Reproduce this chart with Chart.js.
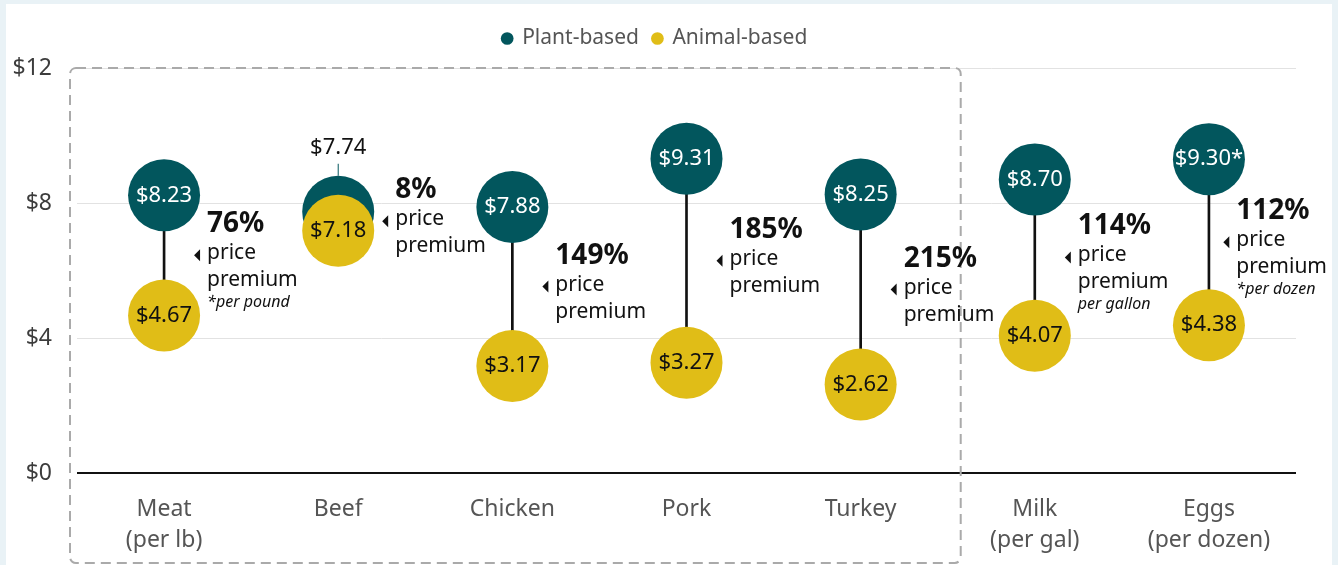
<!DOCTYPE html>
<html>
<head>
<meta charset="utf-8">
<script src="https://cdn.jsdelivr.net/npm/chart.js@4"></script>
<style>
  html, body { margin: 0; padding: 0; background: #e9f2f6; }
  #panel { position: absolute; left: 6px; top: 4px; width: 1326px; height: 561px; background: #fff; }
  canvas { display: block; }
</style>
</head>
<body>
<div id="panel"><canvas id="priceChart" width="1326" height="561"></canvas></div>
<script>
const categories = [['Meat', '(per lb)'], 'Beef', 'Chicken', 'Pork', 'Turkey', ['Milk', '(per gal)'], ['Eggs', '(per dozen)']];
const plantPrices = [8.23, 7.74, 7.88, 9.31, 8.25, 8.70, 9.30];
const animalPrices = [4.67, 7.18, 3.17, 3.27, 2.62, 4.07, 4.38];
const plantMarks = ['', '', '', '', '', '', '*'];
const premiums = ['76%', '8%', '149%', '185%', '215%', '114%', '112%'];
const unitNotes = ['*per pound', '', '', '', '', 'per gallon', '*per dozen'];
const yTicks = [0, 4, 8, 12];
const boxedCount = 5; // meat group inside the dashed box

const TEAL = '#02565d';
const GOLD = '#e0bd17';
const FONT = '"Noto Sans", sans-serif';
const R = 36;

// give the legend some extra room below it
const legendGap = {
    id: 'legendGap',
    beforeLayout(chart) {
        const lg = chart.legend;
        if (lg && !lg._gapPatched) {
            const fit = lg.fit.bind(lg);
            lg.fit = function () { fit(); this.height += 9; };
            lg._gapPatched = true;
        }
    }
};

const dashedBox = {
    id: 'dashedBox',
    beforeDatasetsDraw(chart) {
        const { ctx, chartArea, scales } = chart;
        const x = scales.x, y = scales.y;
        const left = chartArea.left - 7;
        const right = (x.getPixelForValue(boxedCount - 1) + x.getPixelForValue(boxedCount)) / 2 + 13;
        const top = y.getPixelForValue(12);
        const bottom = chart.height - 2;
        ctx.save();
        ctx.strokeStyle = '#aaaaaa';
        ctx.lineWidth = 2;
        ctx.setLineDash([10, 6]);
        ctx.beginPath();
        ctx.roundRect(left, top, right - left, bottom - top, 6);
        ctx.stroke();
        ctx.restore();
    }
};

const pointLabels = {
    id: 'pointLabels',
    afterDatasetsDraw(chart) {
        const { ctx, scales } = chart;
        const plant = chart.getDatasetMeta(1).data;
        const animal = chart.getDatasetMeta(2).data;
        ctx.save();
        ctx.textBaseline = 'middle';
        plantPrices.forEach((v, i) => {
            const p = plant[i], a = animal[i];
            ctx.textAlign = 'center';
            ctx.font = '22px ' + FONT;
            ctx.fillStyle = '#111';
            ctx.fillText('$' + animalPrices[i].toFixed(2), a.x, a.y);
            const label = '$' + v.toFixed(2) + plantMarks[i];
            const overlap = a.y - p.y < 2 * R;
            if (overlap) {
                // circles overlap: put plant label above with a tick
                ctx.strokeStyle = TEAL;
                ctx.lineWidth = 1;
                ctx.beginPath();
                ctx.moveTo(p.x, p.y - R);
                ctx.lineTo(p.x, p.y - R - 12);
                ctx.stroke();
                ctx.fillStyle = '#111';
                ctx.fillText(label, p.x, p.y - R - 28);
            } else {
                ctx.fillStyle = '#fff';
                ctx.fillText(label, p.x, p.y);
            }

            // premium annotation
            const mid = scales.y.getPixelForValue((v + animalPrices[i]) / 2);
            let tx = overlap ? p.x + R + 8 : p.x + 30;
            ctx.font = '21px ' + FONT;
            let textX = tx + 13;
            const w = ctx.measureText('premium').width;
            if (textX + w > chart.width - 5) {
                textX = chart.width - 5 - w;
                tx = textX - 13;
            }
            ctx.fillStyle = '#111';
            ctx.beginPath();
            ctx.moveTo(tx, mid);
            ctx.lineTo(tx + 6, mid - 6);
            ctx.lineTo(tx + 6, mid + 6);
            ctx.closePath();
            ctx.fill();

            ctx.textAlign = 'left';
            ctx.font = 'bold 28px ' + FONT;
            ctx.fillText(premiums[i], textX, mid - 31);
            ctx.font = '21px ' + FONT;
            ctx.fillText('price', textX, mid - 2);
            ctx.fillText('premium', textX, mid + 25);
            if (unitNotes[i]) {
                ctx.font = 'italic 16px ' + FONT;
                ctx.fillText(unitNotes[i], textX, mid + 47);
            }
        });
        ctx.restore();
    }
};

new Chart(document.getElementById('priceChart'), {
    type: 'bar',
    data: {
        labels: categories,
        datasets: [{
            type: 'bar',
            label: 'gap',
            data: plantPrices.map((v, i) => [animalPrices[i], v]),
            backgroundColor: '#111',
            barThickness: 2,
            order: 3
        }, {
            type: 'line',
            label: 'Plant-based',
            data: plantPrices,
            showLine: false,
            pointRadius: R,
            pointHoverRadius: R,
            pointBorderWidth: 0,
            backgroundColor: TEAL,
            borderColor: TEAL,
            pointStyle: 'circle',
            order: 2
        }, {
            type: 'line',
            label: 'Animal-based',
            data: animalPrices,
            showLine: false,
            pointRadius: R,
            pointHoverRadius: R,
            pointBorderWidth: 0,
            backgroundColor: GOLD,
            borderColor: GOLD,
            pointStyle: 'circle',
            order: 1
        }]
    },
    options: {
        responsive: false,
        animation: false,
        events: [],
        layout: { padding: { top: 10, right: 28, bottom: 0, left: 0 } },
        plugins: {
            tooltip: { enabled: false },
            legend: {
                position: 'top',
                labels: {
                    filter: item => item.datasetIndex !== 0,
                    sort: (a, b) => a.datasetIndex - b.datasetIndex,
                    usePointStyle: true,
                    boxHeight: 9,
                    boxWidth: 9,
                    padding: 14,
                    color: '#555',
                    font: { family: FONT, size: 21 }
                }
            }
        },
        scales: {
            x: {
                grid: { display: false },
                border: { display: false },
                ticks: {
                    color: '#555',
                    padding: 13,
                    font: { family: FONT, size: 23, lineHeight: 1.35 }
                },
                afterFit(scale) { scale.height = 92; }
            },
            y: {
                min: 0,
                max: 12,
                afterBuildTicks(scale) { scale.ticks = yTicks.map(v => ({ value: v })); },
                border: { display: false },
                grid: {
                    drawTicks: false,
                    color: c => c.tick.value === 0 ? '#111' : '#e2e2e2',
                    lineWidth: c => c.tick.value === 0 ? 2 : 1
                },
                ticks: {
                    padding: 25,
                    color: '#3c3c3c',
                    font: { family: FONT, size: 23 },
                    callback: v => '$' + v
                },
                afterFit(scale) { scale.width = 71; }
            }
        }
    },
    plugins: [legendGap, dashedBox, pointLabels]
});
</script>
</body>
</html>
